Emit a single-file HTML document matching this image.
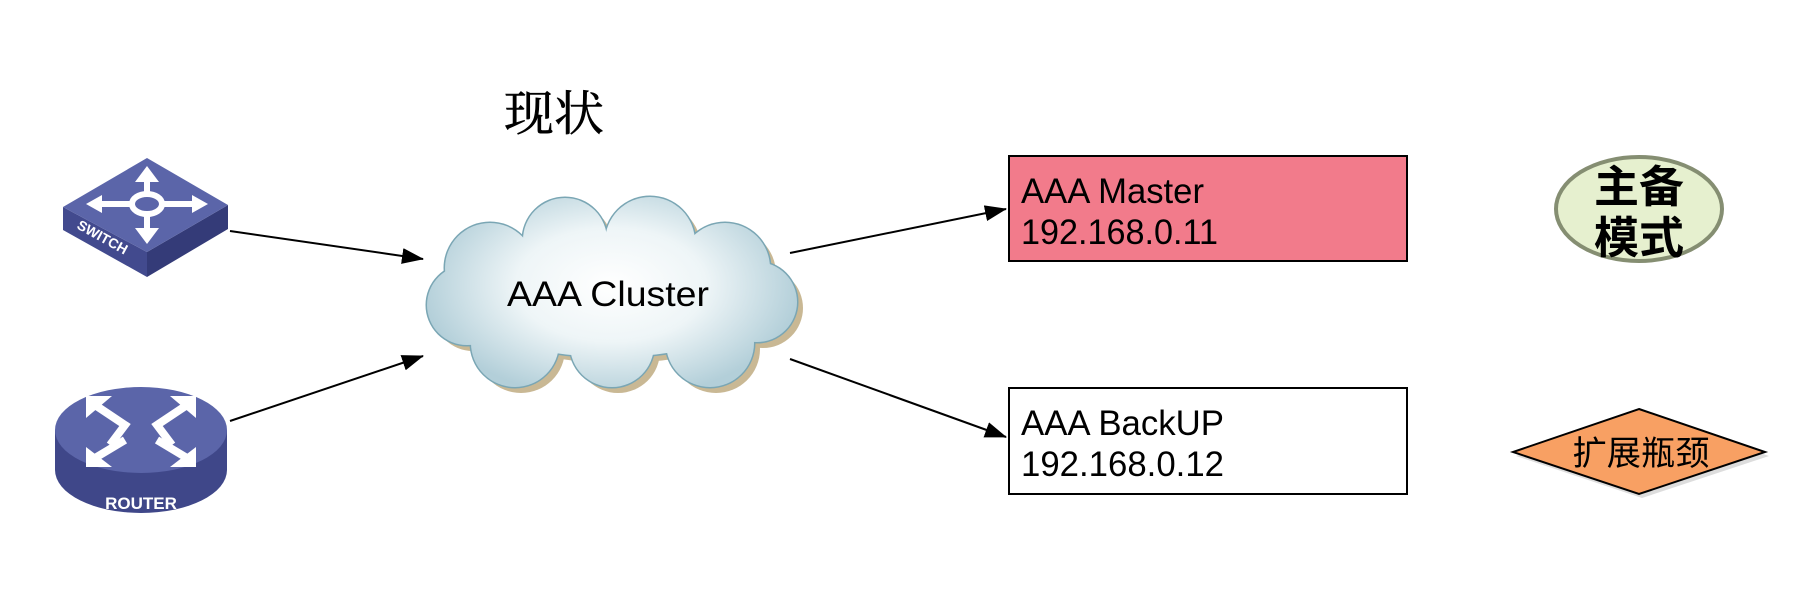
<!DOCTYPE html>
<html><head><meta charset="utf-8"><style>html,body{margin:0;padding:0;background:#fff}svg{display:block}</style></head>
<body>
<svg width="1816" height="600" viewBox="0 0 1816 600" xmlns="http://www.w3.org/2000/svg">
<defs>
<radialGradient id="cg" gradientUnits="userSpaceOnUse" cx="611" cy="285" r="190" gradientTransform="translate(611 285) scale(1 0.6) translate(-611 -285)">
<stop offset="0" stop-color="#ffffff"/><stop offset="0.5" stop-color="#eef5f7"/><stop offset="1" stop-color="#b3cfd9"/>
</radialGradient>
<marker id="ah" markerWidth="22" markerHeight="16" refX="21" refY="8" orient="auto" markerUnits="userSpaceOnUse" viewBox="0 0 22 16">
<path d="M0,0 L22,8 L0,16 z" fill="#000"/>
</marker>
</defs>
<rect width="1816" height="600" fill="#fff"/>

<text x="554" y="130" font-family="'Liberation Serif','Noto Serif CJK SC',serif" font-size="48" text-anchor="middle" textLength="100" lengthAdjust="spacingAndGlyphs" stroke="#000" stroke-width="0.6">现状</text>

<!-- switch -->
<polygon points="63,207 147,252 147,277 63,230" fill="#424a8e"/>
<polygon points="147,252 228,205 228,229 147,277" fill="#343b78"/>
<polygon points="147,158 228,205 147,252 63,207" fill="#5b65a9"/>
<g stroke="#fff" stroke-width="6" fill="none" stroke-linecap="round">
<line x1="147" y1="175" x2="147" y2="236"/><line x1="95" y1="204" x2="199" y2="204"/>
</g>
<g fill="#fff">
<polygon points="147,166 135,182 159,182"/><polygon points="147,244 135,228 159,228"/>
<polygon points="86,204 102,195 102,213"/><polygon points="208,204 192,195 192,213"/>
</g>
<ellipse cx="147" cy="204" rx="15" ry="10" fill="#5b65a9" stroke="#fff" stroke-width="6"/>
<text x="0" y="0" font-family="'Liberation Sans',sans-serif" font-size="14" font-weight="bold" fill="#fff" transform="translate(76,228) rotate(29)">SWITCH</text>

<!-- router -->
<path d="M55,430 L55,470 A86,43 0 0 0 227,470 L227,430 z" fill="#3f4789"/>
<ellipse cx="141" cy="430" rx="86" ry="43" fill="#5b65a9"/>
<g stroke="#fff" stroke-width="8" fill="none">
<path d="M95,405 L125,425 L110,445"/><path d="M187,405 L157,425 L172,445"/>
<path d="M95,458 L125,440"/><path d="M187,458 L157,440"/>
</g>
<g fill="#fff">
<polygon points="86,396 112,396 86,418"/><polygon points="196,396 170,396 196,418"/>
<polygon points="86,467 112,467 86,447"/><polygon points="196,467 170,467 196,447"/>
</g>
<text x="141" y="509" font-family="'Liberation Sans',sans-serif" font-size="17" font-weight="bold" fill="#fff" text-anchor="middle">ROUTER</text>

<!-- cloud shadow -->
<g fill="#c9b894" transform="translate(6,6)">
<ellipse cx="611" cy="295" rx="160" ry="62"/>
<circle cx="490" cy="268" r="45"/><circle cx="565" cy="240" r="42"/><circle cx="650" cy="242" r="45"/>
<circle cx="725" cy="268" r="45"/><circle cx="757" cy="302" r="40"/><circle cx="710" cy="343" r="44"/>
<circle cx="612" cy="345" r="42"/><circle cx="515" cy="343" r="44"/><circle cx="467" cy="305" r="40"/>
</g>
<g fill="#7aa6b4" stroke="#7aa6b4" stroke-width="3">
<ellipse cx="611" cy="295" rx="160" ry="62"/>
<circle cx="490" cy="268" r="45"/><circle cx="565" cy="240" r="42"/><circle cx="650" cy="242" r="45"/>
<circle cx="725" cy="268" r="45"/><circle cx="757" cy="302" r="40"/><circle cx="710" cy="343" r="44"/>
<circle cx="612" cy="345" r="42"/><circle cx="515" cy="343" r="44"/><circle cx="467" cy="305" r="40"/>
</g>
<g fill="url(#cg)">
<ellipse cx="611" cy="295" rx="160" ry="62"/>
<circle cx="490" cy="268" r="45"/><circle cx="565" cy="240" r="42"/><circle cx="650" cy="242" r="45"/>
<circle cx="725" cy="268" r="45"/><circle cx="757" cy="302" r="40"/><circle cx="710" cy="343" r="44"/>
<circle cx="612" cy="345" r="42"/><circle cx="515" cy="343" r="44"/><circle cx="467" cy="305" r="40"/>
</g>
<text x="608" y="306" font-family="'Liberation Sans',sans-serif" font-size="35" text-anchor="middle" textLength="202" lengthAdjust="spacingAndGlyphs">AAA Cluster</text>

<!-- arrows -->
<g stroke="#000" stroke-width="2" marker-end="url(#ah)">
<line x1="230" y1="231" x2="423" y2="259"/>
<line x1="230" y1="421" x2="423" y2="356"/>
<line x1="790" y1="253" x2="1006" y2="209"/>
<line x1="790" y1="359" x2="1006" y2="437"/>
</g>

<!-- boxes -->
<rect x="1009" y="156" width="398" height="105" fill="#f27b8b" stroke="#000" stroke-width="2"/>
<text x="1021" y="203" font-family="'Liberation Sans',sans-serif" font-size="35" textLength="183" lengthAdjust="spacingAndGlyphs">AAA Master</text>
<text x="1021" y="244" font-family="'Liberation Sans',sans-serif" font-size="35" textLength="197" lengthAdjust="spacingAndGlyphs">192.168.0.11</text>
<rect x="1009" y="388" width="398" height="106" fill="#fff" stroke="#000" stroke-width="2"/>
<text x="1021" y="435" font-family="'Liberation Sans',sans-serif" font-size="35" textLength="203" lengthAdjust="spacingAndGlyphs">AAA BackUP</text>
<text x="1021" y="476" font-family="'Liberation Sans',sans-serif" font-size="35" textLength="203" lengthAdjust="spacingAndGlyphs">192.168.0.12</text>

<!-- ellipse -->
<ellipse cx="1639" cy="209" rx="83" ry="52" fill="#e6f0cf" stroke="#858e72" stroke-width="4"/>
<text x="1639" y="202" font-family="'Liberation Sans','Noto Sans CJK SC',sans-serif" font-size="44" font-weight="bold" text-anchor="middle" textLength="90" lengthAdjust="spacingAndGlyphs">主备</text>
<text x="1639" y="253" font-family="'Liberation Sans','Noto Sans CJK SC',sans-serif" font-size="44" font-weight="bold" text-anchor="middle" textLength="90" lengthAdjust="spacingAndGlyphs">模式</text>

<!-- diamond -->
<polygon points="1642,413 1769,456 1642,498 1516,456" fill="#bbb" opacity="0.5"/>
<polygon points="1639,409 1765,452 1639,494 1513,452" fill="#f8a063" stroke="#000" stroke-width="2"/>
<text x="1641" y="465" font-family="'Liberation Sans','Noto Sans CJK SC',sans-serif" font-size="34" text-anchor="middle" textLength="137" lengthAdjust="spacingAndGlyphs">扩展瓶颈</text>
</svg>
</body></html>
